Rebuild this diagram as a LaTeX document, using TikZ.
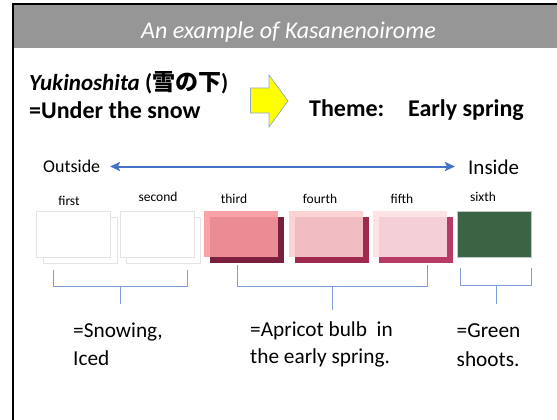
\documentclass[tikz,border=0pt]{standalone}
\usepackage{fontspec}
\setmainfont{Carlito}
\newfontfamily\cjk{Noto Sans CJK JP}
\usetikzlibrary{arrows.meta}

\definecolor{headgray}{HTML}{969696}
\definecolor{arrowblue}{HTML}{4472C4}
\definecolor{brackblue}{HTML}{7E9FDA}
\definecolor{sunyellow}{HTML}{FFFF00}
\definecolor{arrowedge}{HTML}{8FA9C8}
\definecolor{paleedge}{HTML}{E4E4E4}
\definecolor{pinkA}{HTML}{F8989D}
\definecolor{maroonA}{HTML}{7A1F3D}
\definecolor{pinkB}{HTML}{FCCDD0}
\definecolor{maroonB}{HTML}{A0294F}
\definecolor{pinkC}{HTML}{FCE0E3}
\definecolor{maroonC}{HTML}{B83B66}
\definecolor{leafgreen}{HTML}{3A6444}

\tikzset{
  txt/.style={anchor=base west, inner sep=0pt, font=\fontsize{#1}{#1}\selectfont},
  txt/.default=20,
  tag/.style={anchor=base, inner sep=0pt, font=\fontsize{13.5}{13.5}\selectfont},
  swatch/.style={anchor=north west, inner sep=0pt, minimum width=74pt, minimum height=46pt},
  whitefront/.style={swatch, fill=white, draw=paleedge, line width=0.8pt},
  layer/.style={swatch, fill=#1, fill opacity=0.9},
  bracket/.style={draw=brackblue, line width=0.9pt},
}

\begin{document}
\begin{tikzpicture}[x=1pt, y=-1pt]
  \useasboundingbox (0,0) rectangle (557,420);

  % slide frame and title bar
  \fill[headgray] (13,5) rectangle (557,48);
  \draw[black, line width=2pt] (12.5,420) -- (12.5,4) -- (557,4);
  \node[anchor=base, inner sep=0pt, text=white, font=\fontsize{24}{24}\selectfont\itshape]
    (title) at (288.5,38.5) {An example of Kasanenoirome};

  % name of the colour combination
  \node[txt, font=\fontsize{23}{23}\selectfont\bfseries] (name) at (29,90)
    {\textit{Yukinoshita} ({\cjk 雪の下})};
  \node[txt, font=\fontsize{24}{24}\selectfont\bfseries] (meaning) at (29,118) {=Under the snow};

  % yellow block arrow
  \filldraw[fill=sunyellow, draw=arrowedge, line width=0.7pt]
    (250.5,88) -- (269,88) -- (269,75) -- (288,101) -- (269,127) -- (269,113) -- (250.5,113) -- cycle;

  \node[txt, font=\fontsize{24}{24}\selectfont\bfseries] (theme) at (309,117) {Theme:};
  \node[txt, font=\fontsize{24}{24}\selectfont\bfseries] (spring) at (408,117) {Early spring};

  % outside / inside axis
  \node[txt=18] (outside) at (43,172) {Outside};
  \node[txt=21] (inside) at (468,174) {Inside};
  \draw[arrowblue, line width=2pt, {Stealth[length=10pt,width=9pt,inset=2pt]}-{Stealth[length=10pt,width=9pt,inset=2pt]}]
    (110,166.5) -- (455,166.5);

  % layer names
  \node[tag] (t1) at (69,205) {first};
  \node[tag] (t2) at (158,201) {second};
  \node[tag] (t3) at (234,203) {third};
  \node[tag] (t4) at (320,203) {fourth};
  \node[tag] (t5) at (402,203) {fifth};
  \node[tag] (t6) at (483,201) {sixth};

  % colour swatches: back layer first, front layer on top
  \node[whitefront] (b1) at (43,217) {};
  \node[whitefront] (c1) at (36,211) {};
  \node[whitefront] (b2) at (126,217) {};
  \node[whitefront] (c2) at (120,211) {};
  \node[swatch, fill=maroonA] (b3) at (210,217) {};
  \node[layer=pinkA] (c3) at (204,211) {};
  \node[swatch, fill=maroonB] (b4) at (295,217) {};
  \node[layer=pinkB] (c4) at (289,211) {};
  \node[swatch, fill=maroonC] (b5) at (379,217) {};
  \node[layer=pinkC] (c5) at (373,211) {};
  \node[swatch, fill=leafgreen, draw=gray!45, line width=0.6pt] (c6) at (457,211) {};

  % grouping brackets
  \coordinate (g1) at (120,304);
  \coordinate (g2) at (332,310);
  \coordinate (g3) at (496,304);
  \draw[bracket] (53,270) -- (53,286.5) -- (187,286.5) -- (187,270);
  \draw[bracket] (g1 |- 0,286.5) -- (g1);
  \draw[bracket] (237,265) -- (237,286.5) -- (427,286.5) -- (427,265);
  \draw[bracket] (g2 |- 0,286.5) -- (g2);
  \draw[bracket] (460,268) -- (460,285.5) -- (531,285.5) -- (531,268);
  \draw[bracket] (g3 |- 0,285.5) -- (g3);

  % meanings of each group
  \node[txt=21.3] (m1a) at (73,337.5) {=Snowing,};
  \node[txt=21.3] (m1b) at (73,365) {Iced};
  \node[txt=21.3] (m2a) at (250,336) {=Apricot bulb\ \ in};
  \node[txt=21.3] (m2b) at (250,363) {the early spring.};
  \node[txt=21.3] (m3a) at (456.5,337.5) {=Green};
  \node[txt=21.3] (m3b) at (456.5,366) {shoots.};
\end{tikzpicture}
\end{document}
